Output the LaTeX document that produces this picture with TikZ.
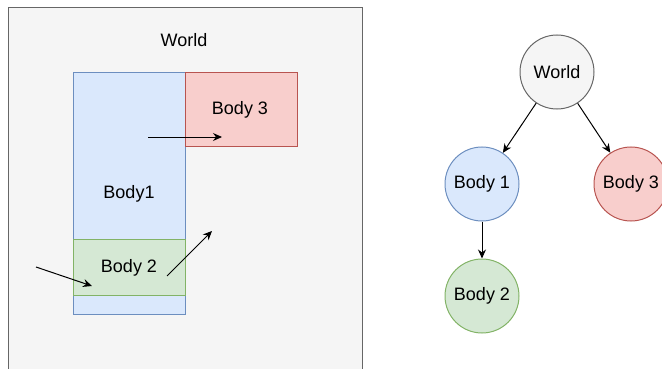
\documentclass[tikz,border=0pt]{standalone}
\usepackage{fontspec}
\setmainfont{Liberation Sans}
\usetikzlibrary{arrows.meta}
\definecolor{wfill}{HTML}{F5F5F5}\definecolor{wdraw}{HTML}{666666}
\definecolor{bfill}{HTML}{DAE8FC}\definecolor{bdraw}{HTML}{6C8EBF}
\definecolor{rfill}{HTML}{F8CECC}\definecolor{rdraw}{HTML}{B85450}
\definecolor{gfill}{HTML}{D5E8D4}\definecolor{gdraw}{HTML}{82B366}
\tikzset{
  box/.style={draw, line width=1pt, inner sep=0pt, anchor=north west},
  lbl/.style={font=\fontsize{18}{21}\selectfont, inner sep=0pt},
  circ/.style={circle, draw, line width=1pt, minimum size=74pt, inner sep=0pt, font=\fontsize{18}{21}\selectfont},
  arr/.style={line width=1pt, -{Stealth[length=9pt,width=8pt]}},
}
\begin{document}
\begin{tikzpicture}[x=1pt,y=-1pt]
\useasboundingbox (0,0) rectangle (662,369);
% left scene
\node[box, fill=wfill, draw=wdraw, minimum width=354pt, minimum height=370pt] (world) at (8,7) {};
\node[lbl] (worldl) at (184,40) {World};
\node[box, fill=bfill, draw=bdraw, minimum width=112pt, minimum height=242pt] (b1) at (73,72) {};
\node[box, fill=rfill, draw=rdraw, minimum width=112pt, minimum height=74pt] (b3) at (185,72) {};
\node[box, fill=gfill, draw=gdraw, minimum width=112pt, minimum height=56pt] (b2) at (73,239) {};
\node[lbl] (b1l) at (129,194) {Body1};
\node[lbl] (b3l) at (240,110) {Body 3};
\node[lbl] (b2l) at (129,268) {Body 2};
\coordinate (a1s) at (148,137); \coordinate (a1e) at (222,137);
\coordinate (a2s) at (36,267);  \coordinate (a2e) at (92,286);
\coordinate (a3s) at (167,276); \coordinate (a3e) at (212,231);
\draw[arr] (a1s) -- (a1e);
\draw[arr] (a2s) -- (a2e);
\draw[arr] (a3s) -- (a3e);
% tree
\node[circ, fill=wfill, draw=wdraw] (tw) at (557,72) {World};
\node[circ, fill=bfill, draw=bdraw] (t1) at (482,184) {Body 1};
\node[circ, fill=rfill, draw=rdraw] (t3) at (631,184) {Body 3};
\node[circ, fill=gfill, draw=gdraw] (t2) at (482,296) {Body 2};
\draw[arr] (tw) -- (t1);
\draw[arr] (tw) -- (t3);
\draw[arr] (t1) -- (t2);
\end{tikzpicture}
\end{document}
